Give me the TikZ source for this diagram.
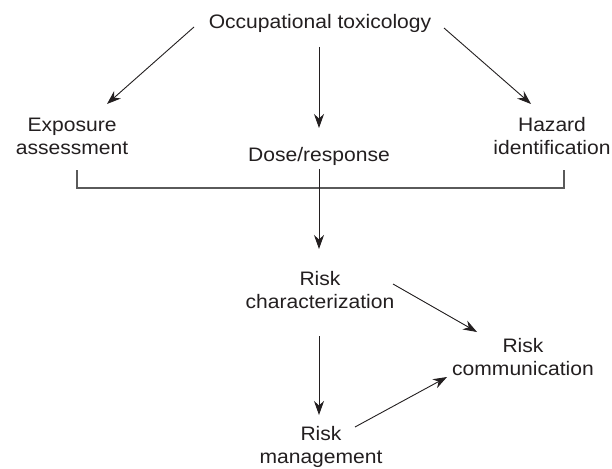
\documentclass[tikz,border=0pt]{standalone}
\usepackage{fontspec}
\setmainfont{Liberation Sans}[FakeStretch=1.08]
\usetikzlibrary{arrows.meta,calc}
\definecolor{ink}{HTML}{231F20}
\definecolor{rule}{HTML}{5A5A5A}
\begin{document}
\begin{tikzpicture}[x=1pt,y=-1pt,
  lbl/.style={inner sep=0pt, outer sep=0pt, align=center, anchor=base,
    font=\fontsize{19.5}{23}\selectfont, text=ink},
  arr/.style={draw=ink, line width=0.9pt,
    -{Stealth[length=14pt,width=10pt,inset=4.5pt]}},
  brk/.style={draw=rule, line width=1.3pt}]
  % canvas
  \fill[white] (0,0) rectangle (612,468);
  \useasboundingbox (0,0) rectangle (612,468);

  % labels (base anchor = baseline of the last line)
  \node[lbl] (occ)  at (320,29)  {Occupational toxicology};
  \node[lbl] (exp)  at (72,154)  {Exposure\\assessment};
  \node[lbl] (dose) at (319,161) {Dose/response};
  \node[lbl] (haz)  at (552,154) {Hazard\\identification};
  \node[lbl] (char) at (320,308) {Risk\\characterization};
  \node[lbl] (comm) at (523,375) {Risk\\communication};
  \node[lbl] (mgmt) at (321,463) {Risk\\management};

  % top fan-out
  \draw[arr] ([shift={(-126,-2)}]occ.base) -- ([shift={(35,-50)}]exp.base);
  \draw[arr] ([shift={(-1,18)}]occ.base)   -- ([shift={(0,-33)}]dose.base);
  \draw[arr] ([shift={(124,-1)}]occ.base)  -- ([shift={(-21,-50)}]haz.base);

  % bracket joining the three assessments
  \draw[brk] ([shift={(5,16)}]exp.base) |- ([shift={(12,34)}]haz.base)
             -- ([shift={(12,16)}]haz.base);

  % lower chain
  \draw[arr] ([shift={(0,8)}]dose.base)     -- ([shift={(-1,-59)}]char.base);
  \draw[arr] ([shift={(73,-24)}]char.base)  -- ([shift={(-46,-43)}]comm.base);
  \draw[arr] ([shift={(-1,28)}]char.base)   -- ([shift={(-2,-48)}]mgmt.base);
  \draw[arr] ([shift={(34,-36)}]mgmt.base)  -- ([shift={(-76,2)}]comm.base);
\end{tikzpicture}
\end{document}
